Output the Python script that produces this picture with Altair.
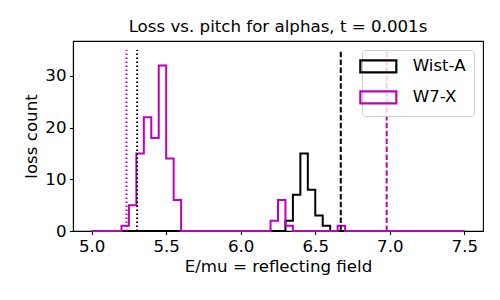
import altair as alt
import pandas as pd

bin_lo = 5.0
bin_hi = 7.5
bin_w = 0.05

wist_bins = [6.30, 6.35, 6.40, 6.45, 6.50, 6.55]
wist_counts = [2, 7, 15, 8, 3, 1]

w7x_bins = [5.20, 5.25, 5.30, 5.35, 5.40, 5.45, 5.50, 5.55, 6.20, 6.25, 6.30, 6.65]
w7x_counts = [1, 5, 15, 22, 18, 32, 14, 6, 2, 6, 1, 1]

vline_x = [5.234, 5.305, 6.671, 6.979]
vline_series = ["W7-X", "Wist-A", "Wist-A", "W7-X"]
vline_style = ["dotted", "dotted", "dashed", "dashed"]
vline_top = 35

series_names = ["Wist-A", "W7-X"]
series_colors = ["#000000", "#bf00bf"]

title = "Loss vs. pitch for alphas, t = 0.001s"
x_title = "E/mu = reflecting field"
y_title = "loss count"
x_ticks = [5.0, 5.5, 6.0, 6.5, 7.0, 7.5]
y_ticks = [0, 10, 20, 30]

FONT = "DejaVu Sans"
FS = 16.67


def step_frame(name, bins, counts):
    n = int(round((bin_hi - bin_lo) / bin_w))
    lookup = {round(b, 2): c for b, c in zip(bins, counts)}
    rows = []
    for i in range(n):
        x = round(bin_lo + i * bin_w, 2)
        rows.append({"x": x, "count": lookup.get(x, 0), "series": name})
    rows.append({"x": bin_hi, "count": 0, "series": name})
    return pd.DataFrame(rows)


wist_df = step_frame("Wist-A", wist_bins, wist_counts)
w7x_df = step_frame("W7-X", w7x_bins, w7x_counts)

vrows = []
for i, (vx, vs, vst) in enumerate(zip(vline_x, vline_series, vline_style)):
    vrows.append({"x": vx, "count": 0, "series": vs, "style": vst, "id": i})
    vrows.append({"x": vx, "count": vline_top, "series": vs, "style": vst, "id": i})
vl_df = pd.DataFrame(vrows)

xscale = alt.Scale(domain=[4.875, 7.625], nice=False, zero=False)
yscale = alt.Scale(domain=[0, 36.75], nice=False, zero=False)
cscale = alt.Scale(domain=series_names, range=series_colors)

xaxis = alt.Axis(values=x_ticks, format=".1f", title=x_title)
yaxis = alt.Axis(values=y_ticks, format="d", title=y_title)

legend = alt.Legend(
    title=None, orient="none", legendX=289, legendY=9,
    symbolType="M-3,-1H3V1H-3Z", symbolSize=144, symbolStrokeWidth=2.2,
    symbolFillColor="transparent",
    labelFont=FONT, labelFontSize=FS, labelColor="black", labelOffset=26,
    strokeColor="#cccccc", fillColor="rgba(255,255,255,0.8)",
    cornerRadius=3, padding=8, rowPadding=9,
)


def hist_layer(df, leg):
    return alt.Chart(df).mark_line(interpolate="step-after", strokeWidth=2,
                                   strokeJoin="miter").encode(
        x=alt.X("x:Q", scale=xscale, axis=xaxis),
        y=alt.Y("count:Q", scale=yscale, axis=yaxis),
        color=alt.Color("series:N", scale=cscale, legend=leg,
                        sort=series_names),
    )


h1 = hist_layer(wist_df, legend)
h2 = hist_layer(w7x_df, None)


def vline_layer(style, dash):
    return alt.Chart(vl_df).transform_filter(alt.datum.style == style).mark_line(
        strokeWidth=2, strokeDash=dash).encode(
        x=alt.X("x:Q", scale=xscale, axis=xaxis),
        y=alt.Y("count:Q", scale=yscale, axis=yaxis),
        detail="id:N",
        color=alt.Color("series:N", scale=cscale, legend=None))


dotted = vline_layer("dotted", [1.5, 2.5])
dashed = vline_layer("dashed", [5.5, 2.4])

chart = alt.layer(h1, h2, dotted, dashed).properties(
    width=410, height=190,
    title=alt.TitleParams(title, font=FONT, fontSize=FS, fontWeight="normal",
                          color="black", anchor="middle", baseline="bottom",
                          offset=8, dy=20),
    autosize=alt.AutoSizeParams(type="none"),
    padding={"left": 65, "top": 33, "right": 9, "bottom": 61},
).configure_view(stroke="black", strokeWidth=1.1).configure_axis(
    grid=False, domainColor="black", domainWidth=1.1, tickColor="black",
    tickSize=3.5, tickWidth=1.1, labelFont=FONT, labelFontSize=FS,
    labelColor="black", labelPadding=3.5, titleFont=FONT, titleFontSize=FS,
    titleFontWeight="normal", titleColor="black", titlePadding=4,
    labelFlush=False,
)

chart.save("out.html", embed_options={"renderer": "svg", "actions": False})
